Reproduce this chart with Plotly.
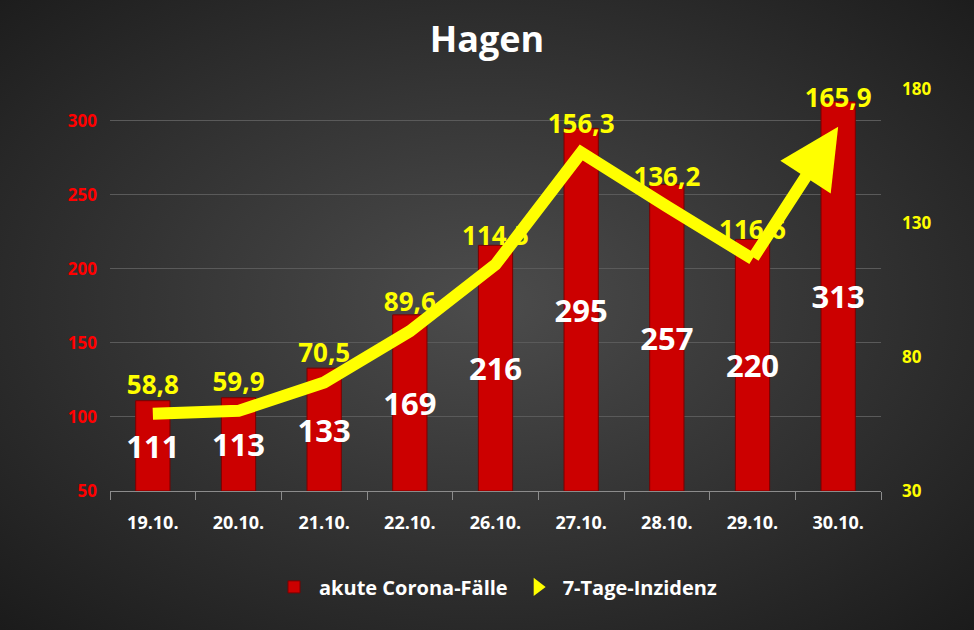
import base64
import plotly.graph_objects as go

dates = ["19.10.", "20.10.", "21.10.", "22.10.", "26.10.", "27.10.", "28.10.", "29.10.", "30.10."]
akute_faelle = [111, 113, 133, 169, 216, 295, 257, 220, 313]
inzidenz = [58.8, 59.9, 70.5, 89.6, 114.5, 156.3, 136.2, 116.6, 165.9]

FONT = "Open Sans"
AXIS_MIN = 50  # bars start at the bottom of the left axis
YELLOW = "#ffff00"

# radial background like the original slide
svg = ('<svg xmlns="http://www.w3.org/2000/svg" width="974" height="630">'
       '<defs><radialGradient id="g" cx="50%" cy="48%" r="72%">'
       '<stop offset="0" stop-color="#4c4c4c"/><stop offset="1" stop-color="#1b1b1b"/>'
       '</radialGradient></defs><rect width="974" height="630" fill="url(#g)"/></svg>')
bg_src = "data:image/svg+xml;base64," + base64.b64encode(svg.encode()).decode()

fig = go.Figure()

fig.add_trace(go.Bar(
    x=dates, y=[v - AXIS_MIN for v in akute_faelle], base=AXIS_MIN,
    customdata=akute_faelle, name="akute Corona-Fälle",
    marker=dict(color="#cc0000", line=dict(color="#7a0000", width=1)),
    texttemplate="%{customdata}", textposition="inside", insidetextanchor="middle",
    textangle=0, constraintext="none",
    textfont=dict(color="white", size=31, family=FONT, weight="bold"),
    hovertemplate="%{x}: %{customdata}<extra></extra>",
))

# line up to the second-to-last point, last segment is drawn as an arrow
fig.add_trace(go.Scatter(
    x=dates[:-1], y=inzidenz[:-1], yaxis="y2", mode="lines",
    line=dict(color=YELLOW, width=12), showlegend=False,
))

fig.add_annotation(
    x=dates[-1], y=inzidenz[-1], xref="x", yref="y2",
    ax=dates[-2], ay=inzidenz[-2], axref="x", ayref="y2",
    showarrow=True, arrowhead=2, arrowsize=1, arrowwidth=12,
    arrowcolor=YELLOW, text="", standoff=0, startstandoff=0,
)

# labels for the incidence line, pushed up by an invisible marker
fig.add_trace(go.Scatter(
    x=dates, y=inzidenz, yaxis="y2", mode="markers+text",
    marker=dict(size=20, color="rgba(0,0,0,0)"),
    texttemplate="%{y:.1f}", textposition="top center", cliponaxis=False,
    textfont=dict(color=YELLOW, size=26, family=FONT, weight="bold"),
    showlegend=False, hoverinfo="skip",
))

# legend entry with triangle symbol
fig.add_trace(go.Scatter(
    x=[None], y=[None], yaxis="y2", mode="markers", name="7-Tage-Inzidenz",
    marker=dict(symbol="triangle-right", size=30, color=YELLOW, opacity=1),
))

fig.update_layout(
    width=974, height=630,
    margin=dict(l=110, r=93, t=89, b=139),
    paper_bgcolor="#2a2a2a", plot_bgcolor="rgba(0,0,0,0)",
    separators=",.",
    title=dict(text="<b>Hagen</b>", x=0.5, xanchor="center", y=0.937, yanchor="middle",
               font=dict(color="white", size=36, family=FONT)),
    bargap=0.6,
    xaxis=dict(
        range=[-0.5, len(dates) - 0.5],
        showgrid=False, showline=True, linecolor="#8c8c8c", linewidth=1,
        ticks="outside", tickson="boundaries", tickcolor="#8c8c8c", ticklen=8,
        tickfont=dict(color="white", size=18, family=FONT, weight="bold"),
        ticklabelstandoff=15,
    ),
    yaxis=dict(
        range=[AXIS_MIN, 321.6], tick0=50, dtick=50,
        showgrid=True, gridcolor="#5a5a5a", gridwidth=1, zeroline=False,
        tickfont=dict(color="#ff0000", size=17, family=FONT, weight="bold"),
        ticklabelstandoff=12,
    ),
    yaxis2=dict(
        range=[30, 180], tick0=30, dtick=50, overlaying="y", side="right",
        showgrid=False, zeroline=False,
        tickfont=dict(color=YELLOW, size=17, family=FONT, weight="bold"),
        ticklabelstandoff=20,
    ),
    legend=dict(
        orientation="h", x=0.5, xanchor="center", y=-0.19, yanchor="top",
        font=dict(color="white", size=20, family=FONT, weight="bold"),
        bgcolor="rgba(0,0,0,0)", itemsizing="trace", itemwidth=40,
    ),
    images=[dict(source=bg_src, xref="paper", yref="paper",
                 x=-110 / 771, y=491 / 402, sizex=974 / 771, sizey=630 / 402,
                 sizing="stretch", layer="below", xanchor="left", yanchor="top")],
)

fig.write_html("out.html", config={"displayModeBar": False},
               post_script="document.body.style.margin='0';")
